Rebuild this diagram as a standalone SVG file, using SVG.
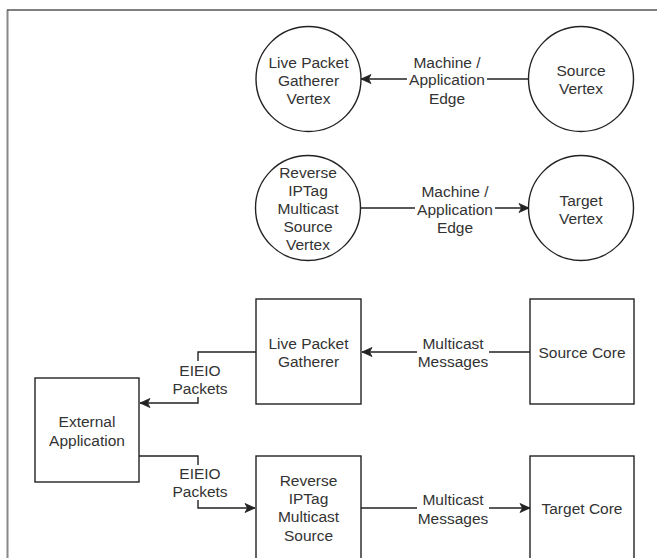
<svg xmlns="http://www.w3.org/2000/svg" width="657" height="558" viewBox="0 0 657 558">
<style>
.shape{fill:#fff;stroke:#222;stroke-width:1.4}
.edge{fill:none;stroke:#222;stroke-width:1.4}
text{font-family:"Liberation Sans",Arial,sans-serif;font-size:15.5px;fill:#333;text-anchor:middle}
.lbg{fill:#fff;stroke:none}
</style>
<defs>
<marker id="arr" markerUnits="userSpaceOnUse" markerWidth="12" markerHeight="12" refX="10" refY="5" orient="auto" overflow="visible">
<path d="M0,0.5 L10,5 L0,9.5 L2.5,5 Z" fill="#222" stroke="#222" stroke-width="0.8"/>
</marker>
</defs>
<rect width="657" height="558" fill="#fff"/>
<path d="M7.5,558 L7.5,10" stroke="#888" stroke-width="2" fill="none"/>
<path d="M7,10 L657,10" stroke="#555" stroke-width="1.6" fill="none"/>

<g id="connectors">
<path class="edge" d="M529,79 L361,79" marker-end="url(#arr)"/>
<path class="edge" d="M361,208 L529,208" marker-end="url(#arr)"/>
<path class="edge" d="M530,352 L362,352" marker-end="url(#arr)"/>
<path class="edge" d="M361,508 L530,508" marker-end="url(#arr)"/>
<path class="edge" d="M256,352 L198,352 L198,403 L140,403" marker-end="url(#arr)"/>
<path class="edge" d="M139,456 L198,456 L198,508 L255,508" marker-end="url(#arr)"/>
<g id="label-edge1">
<rect class="lbg" x="407" y="54" width="80" height="52"/>
<text x="447" y="67.5">Machine /</text>
<text x="447" y="85">Application</text>
<text x="447" y="103.5">Edge</text>
</g>
<g id="label-edge2">
<rect class="lbg" x="415" y="183" width="80" height="52"/>
<text x="455" y="197">Machine /</text>
<text x="455" y="214.5">Application</text>
<text x="455" y="233">Edge</text>
</g>
<g id="label-edge3">
<rect class="lbg" x="417" y="335" width="72" height="36"/>
<text x="453" y="348.5">Multicast</text>
<text x="453" y="367">Messages</text>
</g>
<g id="label-edge4">
<rect class="lbg" x="417" y="491" width="72" height="36"/>
<text x="453" y="505">Multicast</text>
<text x="453" y="523.5">Messages</text>
</g>
<g id="label-edge5">
<rect class="lbg" x="172" y="361" width="57" height="36"/>
<text x="200" y="375.5">EIEIO</text>
<text x="200" y="393.5">Packets</text>
</g>
<g id="label-edge6">
<rect class="lbg" x="172" y="465" width="57" height="35"/>
<text x="200" y="478.5">EIEIO</text>
<text x="200" y="497">Packets</text>
</g>
</g>

<g id="lpg-vertex">
<circle class="shape" cx="308.5" cy="79" r="52.5"/>
<text x="308.5" y="67.5">Live Packet</text>
<text x="308.5" y="85.5">Gatherer</text>
<text x="308.5" y="103.5">Vertex</text>
</g>
<g id="source-vertex">
<circle class="shape" cx="581" cy="79" r="52.5"/>
<text x="581" y="75.5">Source</text>
<text x="581" y="93.5">Vertex</text>
</g>
<g id="reverse-vertex">
<circle class="shape" cx="308" cy="208" r="52.5"/>
<text x="308" y="177.5">Reverse</text>
<text x="308" y="195.5">IPTag</text>
<text x="308" y="213.5">Multicast</text>
<text x="308" y="231.5">Source</text>
<text x="308" y="249.5">Vertex</text>
</g>
<g id="target-vertex">
<circle class="shape" cx="581" cy="208" r="52.5"/>
<text x="581" y="205.5">Target</text>
<text x="581" y="224">Vertex</text>
</g>
<g id="lpg">
<rect class="shape" x="256" y="299" width="105" height="105"/>
<text x="308.5" y="348.5">Live Packet</text>
<text x="308.5" y="367">Gatherer</text>
</g>
<g id="source-core">
<rect class="shape" x="530" y="299" width="104" height="105"/>
<text x="582" y="357.5">Source Core</text>
</g>
<g id="external-app">
<rect class="shape" x="35" y="378" width="104" height="104"/>
<text x="87" y="427">External</text>
<text x="87" y="445.5">Application</text>
</g>
<g id="reverse">
<rect class="shape" x="256" y="456" width="105" height="110"/>
<text x="308.5" y="486">Reverse</text>
<text x="308.5" y="504">IPTag</text>
<text x="308.5" y="522">Multicast</text>
<text x="308.5" y="540.5">Source</text>
</g>
<g id="target-core">
<rect class="shape" x="530" y="456" width="104" height="110"/>
<text x="582" y="513.5">Target Core</text>
</g>
</svg>
